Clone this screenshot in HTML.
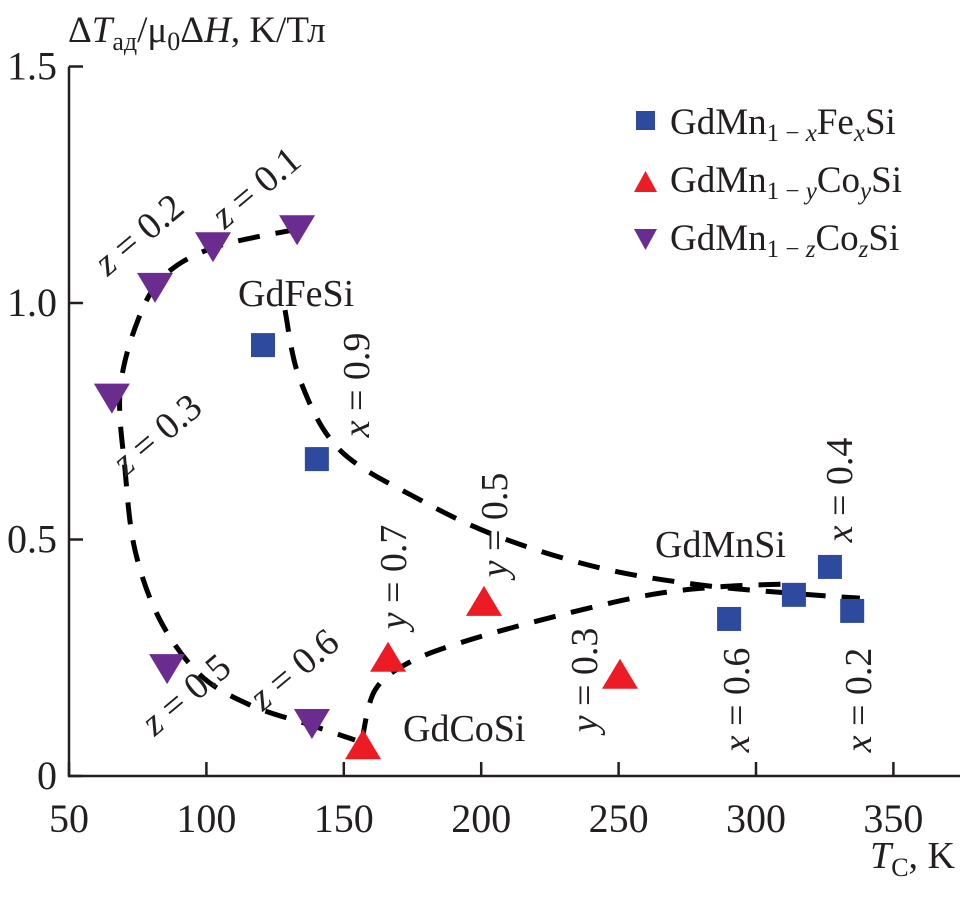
<!DOCTYPE html>
<html><head><meta charset="utf-8"><style>
html,body{margin:0;padding:0;background:#fff;}
svg, svg text, svg tspan{font-family:"Liberation Serif","DejaVu Serif",serif;}
</style></head><body>
<svg id="chart" width="962" height="897" viewBox="0 0 962 897" font-family="Liberation Serif, serif">
<g id="axes"></g>
<g id="curves"></g>
<g id="marks"></g>
<g id="labels" font-size="38" fill="#231f20" font-family="Liberation Serif, serif">
  <text x="68" y="42" font-size="37">Δ<tspan font-style="italic">T</tspan><tspan font-size="26" dy="8">ад</tspan><tspan dy="-8">/μ</tspan><tspan font-size="26" dy="8">0</tspan><tspan dy="-8">Δ</tspan><tspan font-style="italic">H</tspan>, K/Тл</text>
  <text x="955" y="868" text-anchor="end"><tspan font-style="italic">T</tspan><tspan font-size="26" dy="8">C</tspan><tspan dy="-8">, K</tspan></text>
  <text x="238" y="306">GdFeSi</text>
  <text x="655" y="557">GdMnSi</text>
  <text x="403" y="741">GdCoSi</text>
  <text transform="translate(369,385) rotate(-90)" text-anchor="middle"><tspan font-style="italic">x</tspan> = 0.9</text>
  <text transform="translate(507,525) rotate(-90)" text-anchor="middle"><tspan font-style="italic">y</tspan> = 0.5</text>
  <text transform="translate(852,490) rotate(-90)" text-anchor="middle"><tspan font-style="italic">x</tspan> = 0.4</text>
  <text transform="translate(406,577) rotate(-90)" text-anchor="middle"><tspan font-style="italic">y</tspan> = 0.7</text>
  <text transform="translate(597,680) rotate(-90)" text-anchor="middle"><tspan font-style="italic">y</tspan> = 0.3</text>
  <text transform="translate(749,700) rotate(-90)" text-anchor="middle"><tspan font-style="italic">x</tspan> = 0.6</text>
  <text transform="translate(871,700) rotate(-90)" text-anchor="middle"><tspan font-style="italic">x</tspan> = 0.2</text>
  <text transform="translate(264,197) rotate(-40)" text-anchor="middle"><tspan font-style="italic">z</tspan> = 0.1</text>
  <text transform="translate(147,244) rotate(-40)" text-anchor="middle"><tspan font-style="italic">z</tspan> = 0.2</text>
  <text transform="translate(165,444) rotate(-40)" text-anchor="middle"><tspan font-style="italic">z</tspan> = 0.3</text>
  <text transform="translate(194,704) rotate(-40)" text-anchor="middle"><tspan font-style="italic">z</tspan> = 0.5</text>
  <text transform="translate(302,679) rotate(-40)" text-anchor="middle"><tspan font-style="italic">z</tspan> = 0.6</text>
</g>
<g id="legend" font-size="37" fill="#231f20" font-family="Liberation Serif, serif">
  <rect x="636" y="111" width="19" height="19" fill="#2e4a9e"/>
  <text x="670" y="134">GdMn<tspan font-size="25" dy="7">1 − <tspan font-style="italic">x</tspan></tspan><tspan dy="-7">Fe</tspan><tspan font-size="25" dy="7" font-style="italic">x</tspan><tspan dy="-7">Si</tspan></text>
  <polygon points="634,192 657,192 645.5,171" fill="#ed1c24"/>
  <text x="670" y="192">GdMn<tspan font-size="25" dy="7">1 − <tspan font-style="italic">y</tspan></tspan><tspan dy="-7">Co</tspan><tspan font-size="25" dy="7" font-style="italic">y</tspan><tspan dy="-7">Si</tspan></text>
  <polygon points="634,229 657,229 645.5,250" fill="#6a2c8e"/>
  <text x="670" y="250">GdMn<tspan font-size="25" dy="7">1 − <tspan font-style="italic">z</tspan></tspan><tspan dy="-7">Co</tspan><tspan font-size="25" dy="7" font-style="italic">z</tspan><tspan dy="-7">Si</tspan></text>
</g>
</svg>
<script>
const xTicks = [50,100,150,200,250,300,350];
const yTicks = [0,0.5,1.0,1.5];
const yTickLabels = ["0","0.5","1.0","1.5"];
const feT = [120.6,140.2,290.2,313.8,326.9,335.0];
const feV = [0.911,0.670,0.332,0.383,0.442,0.349];
const coYT = [157.0,166.1,201.0,250.5];
const coYV = [0.065,0.250,0.368,0.214];
const coZT = [65.6,81.3,102.4,133.0,85.7,138.4];
const coZV = [0.800,1.034,1.120,1.156,0.228,0.112];
const curveFeT = [128.6,134.1,148.6,177.7,206.8,243.2,279.6,316.0,337.8];
const curveFeV = [0.985,0.837,0.689,0.584,0.505,0.440,0.404,0.385,0.376];
const curveYT = [156.6,161.4,174.1,195.9,228.7,261.4,286.9,312.4];
const curveYV = [0.076,0.182,0.241,0.288,0.340,0.383,0.400,0.406];
const curveZT = [133.0,103.1,84.9,75.1,68.6,70.4,74.0,83.1,97.7,115.9,137.7,154.1];
const curveZV = [1.156,1.118,1.059,0.964,0.816,0.647,0.478,0.330,0.214,0.150,0.108,0.076];

const X = v => 69 + (v - 50) * 2.748;
const Y = v => 776 - v * 473;
const NS = "http://www.w3.org/2000/svg";
function mk(tag, attrs, parent){const e=document.createElementNS(NS,tag);for(const k in attrs)e.setAttribute(k,attrs[k]);parent.appendChild(e);return e;}

const axes = document.getElementById('axes');
let el = mk('path',{d:`M${X(50)},${Y(1.5)} V${Y(0)} H960`,fill:'none',stroke:'#231f20','stroke-width':2.5},axes);


xTicks.forEach(t=>{
  let tk = mk('line',{x1:X(t),x2:X(t),y1:Y(0),y2:Y(0)-14,stroke:'#231f20','stroke-width':2.5},axes);
  
  
  let lb = mk('text',{x:X(t),y:Y(0)+56,'text-anchor':'middle','font-size':40,fill:'#231f20','font-family':'Liberation Serif, serif'},axes);
  lb.textContent = String(t);
  
  
});
yTicks.forEach((t,i)=>{
  let tk = mk('line',{x1:X(50),x2:X(50)+14,y1:Y(t),y2:Y(t),stroke:'#231f20','stroke-width':2.5},axes);
  
  
  let lb = mk('text',{x:X(50)-12,y:Y(t)+13,'text-anchor':'end','font-size':40,fill:'#231f20','font-family':'Liberation Serif, serif'},axes);
  lb.textContent = yTickLabels[i];
  
  
});

function smooth(ts,vs){
  const p = ts.map((t,i)=>[X(t),Y(vs[i])]);
  let d = `M${p[0][0]},${p[0][1]}`;
  for(let i=0;i<p.length-1;i++){
    const p0=p[i-1]||p[i],p1=p[i],p2=p[i+1],p3=p[i+2]||p2;
    const c1=[p1[0]+(p2[0]-p0[0])/6,p1[1]+(p2[1]-p0[1])/6];
    const c2=[p2[0]-(p3[0]-p1[0])/6,p2[1]-(p3[1]-p1[1])/6];
    d+=` C${c1[0]},${c1[1]} ${c2[0]},${c2[1]} ${p2[0]},${p2[1]}`;
  }
  return d;
}
const curves = document.getElementById('curves');
[[curveFeT,curveFeV,'curve-fe'],[curveYT,curveYV,'curve-co-y'],[curveZT,curveZV,'curve-co-z']].forEach(c=>{
  let p = mk('path',{d:smooth(c[0],c[1]),fill:'none',stroke:'#000','stroke-width':5,'stroke-dasharray':'22 16'},curves);
  
  
});

const marks = document.getElementById('marks');
feT.forEach((t,i)=>{
  let r = mk('rect',{x:X(t)-12,y:Y(feV[i])-12,width:24,height:24,fill:'#2e4a9e'},marks);
  
  
});
coYT.forEach((t,i)=>{
  const cx=X(t),cy=Y(coYV[i]);
  let r = mk('polygon',{points:`${cx-18},${cy+14} ${cx+18},${cy+14} ${cx},${cy-16}`,fill:'#ed1c24'},marks);
  
  
});
coZT.forEach((t,i)=>{
  const cx=X(t),cy=Y(coZV[i]);
  let r = mk('polygon',{points:`${cx-18},${cy-14} ${cx+18},${cy-14} ${cx},${cy+16}`,fill:'#6a2c8e'},marks);
  
  
});
</script>
</body></html>
